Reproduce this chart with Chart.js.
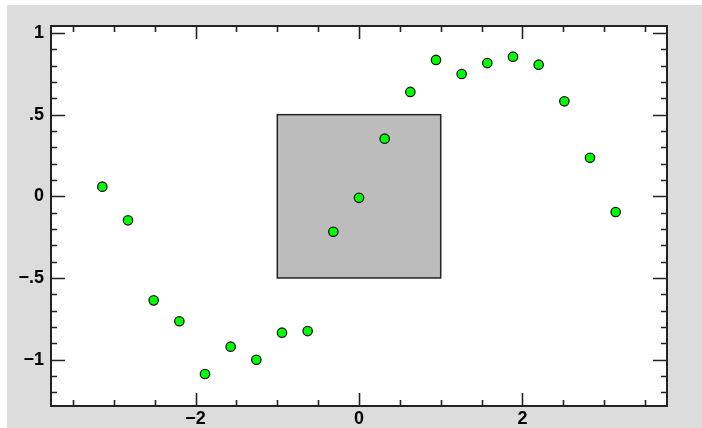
<!DOCTYPE html>
<html>
<head>
<meta charset="utf-8">
<script src="https://cdn.jsdelivr.net/npm/chart.js@4.4.1/dist/chart.umd.min.js"></script>
<style>
  html, body { margin: 0; padding: 0; background: #ffffff; }
  #frame { position: absolute; left: 7px; top: 5px; width: 695px; height: 423px; background: #dcdcdc; }
  #wrap { position: absolute; left: 0; top: 0; width: 702px; height: 428px; }
</style>
</head>
<body>
<div id="frame"></div>
<div id="wrap"><canvas id="c" width="702" height="428"></canvas></div>
<script>
// Sampled points of a noisy sine, x from -π to π
const xValues = [-3.1416, -2.8274, -2.5133, -2.1991, -1.8850, -1.5708, -1.2566, -0.9425, -0.6283, -0.3142,
                 0, 0.3142, 0.6283, 0.9425, 1.2566, 1.5708, 1.8850, 2.1991, 2.5133, 2.8274, 3.1416];
const yValues = [0.059, -0.147, -0.637, -0.765, -1.088, -0.921, -1.001, -0.835, -0.825, -0.217,
                 -0.009, 0.353, 0.639, 0.835, 0.749, 0.816, 0.855, 0.806, 0.582, 0.236, -0.096];

// Axis limits and tick labels
const xRange = [-3.7699, 3.7699];
const yRange = [-1.284, 1.043];
const xTickValues = [-2, 0, 2];
const xTickLabels = ['\u22122', '0', '2'];
const yTickValues = [1, 0.5, 0, -0.5, -1];
const yTickLabels = ['1', '.5', '0', '\u2212.5', '\u22121'];
const xMinorStep = 0.5;
const yMinorStep = 0.1;

// Shaded rectangle region
const boxX = [-1, 1];
const boxY = [-0.5, 0.5];

const points = xValues.map((x, i) => ({ x: x, y: yValues[i] }));

const plotDecor = {
  id: 'plotDecor',
  beforeDatasetsDraw(chart) {
    const { ctx, chartArea: a, scales: { x, y } } = chart;
    ctx.save();
    ctx.fillStyle = '#ffffff';
    ctx.fillRect(a.left, a.top, a.right - a.left, a.bottom - a.top);

    // shaded box
    const bx0 = x.getPixelForValue(boxX[0]), bx1 = x.getPixelForValue(boxX[1]);
    const by0 = y.getPixelForValue(boxY[1]), by1 = y.getPixelForValue(boxY[0]);
    ctx.fillStyle = '#bcbcbc';
    ctx.fillRect(bx0, by0, bx1 - bx0, by1 - by0);
    ctx.strokeStyle = '#222222';
    ctx.lineWidth = 1.5;
    ctx.strokeRect(bx0, by0, bx1 - bx0, by1 - by0);

    // inward ticks on all four sides
    ctx.strokeStyle = '#222222';
    ctx.lineWidth = 1.6;
    ctx.beginPath();
    const xStart = Math.ceil(xRange[0] / xMinorStep);
    const xEnd = Math.floor(xRange[1] / xMinorStep);
    for (let k = xStart; k <= xEnd; k++) {
      const v = k * xMinorStep;
      const major = xTickValues.includes(v);
      const len = major ? 13 : 6;
      const px = Math.round(x.getPixelForValue(v)) + 0.5;
      ctx.moveTo(px, a.bottom); ctx.lineTo(px, a.bottom - len);
      ctx.moveTo(px, a.top); ctx.lineTo(px, a.top + len);
    }
    const yStart = Math.ceil(yRange[0] / yMinorStep - 1e-9);
    const yEnd = Math.floor(yRange[1] / yMinorStep + 1e-9);
    for (let k = yStart; k <= yEnd; k++) {
      const v = Math.round(k * yMinorStep * 10) / 10;
      const major = yTickValues.includes(v);
      const len = major ? 14 : 6;
      const py = Math.round(y.getPixelForValue(v)) + 0.5;
      ctx.moveTo(a.left, py); ctx.lineTo(a.left + len, py);
      ctx.moveTo(a.right, py); ctx.lineTo(a.right - len, py);
    }
    ctx.stroke();

    // frame
    ctx.lineWidth = 2;
    ctx.strokeRect(a.left, a.top, a.right - a.left, a.bottom - a.top);
    ctx.restore();
  }
};

const tickFont = { family: 'Liberation Sans, Arial, sans-serif', size: 18, weight: 'bold' };

new Chart(document.getElementById('c'), {
  type: 'scatter',
  data: {
    datasets: [{
      data: points,
      backgroundColor: '#00ff00',
      borderColor: '#1a1a1a',
      borderWidth: 1.3,
      pointRadius: 4.7,
      pointHoverRadius: 4.7
    }]
  },
  options: {
    responsive: false,
    animation: false,
    events: [],
    layout: { padding: { left: 0, top: 26, right: 35, bottom: 0 } },
    plugins: { legend: { display: false }, tooltip: { enabled: false } },
    scales: {
      x: {
        type: 'linear',
        min: xRange[0],
        max: xRange[1],
        grid: { display: false, drawTicks: false },
        border: { display: false },
        afterBuildTicks(scale) { scale.ticks = xTickValues.map(v => ({ value: v })); },
        afterFit(scale) { scale.height = 22; },
        ticks: {
          color: '#000000',
          font: tickFont,
          padding: 2,
          maxRotation: 0,
          autoSkip: false,
          callback(value) { const i = xTickValues.indexOf(value); return i >= 0 ? xTickLabels[i] : ''; }
        }
      },
      y: {
        type: 'linear',
        min: yRange[0],
        max: yRange[1],
        grid: { display: false, drawTicks: false },
        border: { display: false },
        afterBuildTicks(scale) { scale.ticks = yTickValues.map(v => ({ value: v })); },
        afterFit(scale) { scale.width = 51; },
        ticks: {
          color: '#000000',
          font: tickFont,
          padding: 7,
          autoSkip: false,
          callback(value) { const i = yTickValues.indexOf(value); return i >= 0 ? yTickLabels[i] : ''; }
        }
      }
    }
  },
  plugins: [plotDecor]
});
</script>
</body>
</html>
